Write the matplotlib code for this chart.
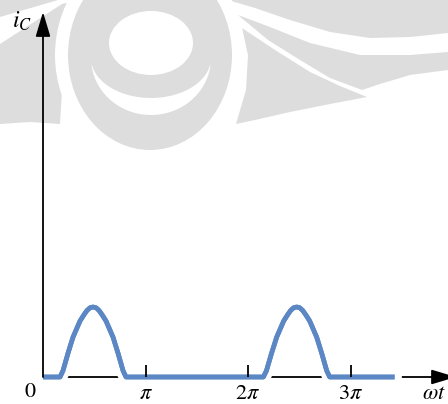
import numpy as np
import matplotlib
matplotlib.use("Agg")
import matplotlib.pyplot as plt
import matplotlib.patheffects as pe
from matplotlib.patches import Polygon, Ellipse

plt.rcParams['mathtext.fontset'] = 'stix'
plt.rcParams['font.family'] = ['STIXGeneral', 'DejaVu Serif']

# collector current waveform, wt in multiples of pi, ic relative to the pulse peak
wt = [0.00, 0.166, 0.195, 0.244, 0.293, 0.361, 0.400, 0.429, 0.459, 0.488,
      0.517, 0.547, 0.576, 0.615, 0.683, 0.732, 0.781, 0.810,
      2.150, 2.180, 2.230, 2.280, 2.348, 2.387, 2.416, 2.446, 2.475,
      2.504, 2.534, 2.563, 2.602, 2.670, 2.719, 2.768, 2.797, 3.43]
ic = [0, 0, 0.09, 0.34, 0.57, 0.80, 0.89, 0.95, 0.99, 1.00,
      0.99, 0.95, 0.89, 0.80, 0.57, 0.34, 0.09, 0,
      0, 0.09, 0.34, 0.57, 0.80, 0.89, 0.95, 0.99, 1.00,
      0.99, 0.95, 0.89, 0.80, 0.57, 0.34, 0.09, 0, 0]

tick_pos = [1, 2, 3]
tick_labels = [r'$\pi$', r'$2\pi$', r'$3\pi$']

blue = '#5b88c4'
gray = '#dddddd'

fig = plt.figure(figsize=(4.48, 4.04), dpi=100)

# faint background watermark (pixel coords)
bg = fig.add_axes([0, 0, 1, 1])
bg.set_xlim(0, 448)
bg.set_ylim(404, 0)
bg.axis('off')

shapes = [
    [(0, 0), (58, 0), (0, 17)],
    [(0, 44), (62, 4), (78, 0), (70, 40), (62, 90), (60, 124), (30, 122), (0, 124)],
    [(228, 0), (448, 0), (448, 33), (410, 37), (370, 38), (330, 32), (290, 20), (255, 8)],
    [(238, 15), (270, 27), (310, 43), (360, 55), (410, 55), (448, 52), (448, 70),
     (410, 75), (380, 84), (362, 90), (330, 78), (300, 60), (268, 40)],
    [(242, 28), (275, 50), (310, 72), (340, 86), (367, 97), (330, 104),
     (290, 112), (255, 120), (236, 124), (246, 90), (248, 55)],
]
for s in shapes:
    bg.add_patch(Polygon(s, closed=True, facecolor=gray, edgecolor='none'))

bg.add_patch(Ellipse((150, 55), 2 * 95, 2 * 108, facecolor='white', edgecolor='none'))
bg.add_patch(Ellipse((150, 55), 2 * 82, 2 * 95, facecolor=gray, edgecolor='none'))
bg.add_patch(Ellipse((151, 43), 84, 64, facecolor='white', edgecolor='none'))
t1 = np.linspace(0.05 * np.pi, 0.95 * np.pi, 40)
outer = np.column_stack([151 + 60 * np.cos(t1), 58 + 57 * np.sin(t1)])
inner = np.column_stack([151 + 60 * np.cos(t1[::-1]), 58 + 40 * np.sin(t1[::-1])])
bg.add_patch(Polygon(np.vstack([outer, inner]), closed=True, facecolor='white', edgecolor='none'))

# main chart
ax = fig.add_axes([0, 0, 1, 1])
ax.patch.set_alpha(0)
ax.set_xlim(-43 / 102.5 * np.pi, 405 / 102.5 * np.pi)
ax.set_ylim(-27 / 70, 377 / 70)
ax.axis('off')

x = np.array(wt) * np.pi
ax.plot(x, ic, color=blue, lw=3.4, solid_capstyle='butt', solid_joinstyle='round', zorder=3,
        path_effects=[pe.withStroke(linewidth=10.5, foreground='white', capstyle='projecting'),
                      pe.Normal()])

# axes with arrows
arrow = '-|>,head_length=1.5,head_width=0.45'
ax.annotate('', xy=(0, 365 / 70), xytext=(0, 0), annotation_clip=False, zorder=5,
            arrowprops=dict(arrowstyle=arrow, mutation_scale=10, lw=1.3, color='black',
                            shrinkA=0, shrinkB=0))
ax.annotate('', xy=(413 / 102.5 * np.pi, 0), xytext=(0, 0), annotation_clip=False, zorder=1,
            arrowprops=dict(arrowstyle=arrow, mutation_scale=10, lw=1.3, color='black',
                            shrinkA=0, shrinkB=0))

tp = np.array(tick_pos) * np.pi
ax.vlines(tp, 0, 12 / 70, color='black', lw=1.3, zorder=5)
for p, lab in zip(tp, tick_labels):
    ax.text(p, -22 / 70, lab, ha='center', va='baseline', fontsize=16)

ax.text(-13 / 102.5 * np.pi, -20 / 70, '0', ha='center', va='baseline', fontsize=16)
ax.text(-31 / 102.5 * np.pi, 349 / 70, r'$i_C$', ha='left', va='baseline', fontsize=17)
ax.text(403 / 102.5 * np.pi, -22 / 70, r'$\omega t$', ha='right', va='baseline', fontsize=16)

fig.savefig('out.png', dpi=100)
